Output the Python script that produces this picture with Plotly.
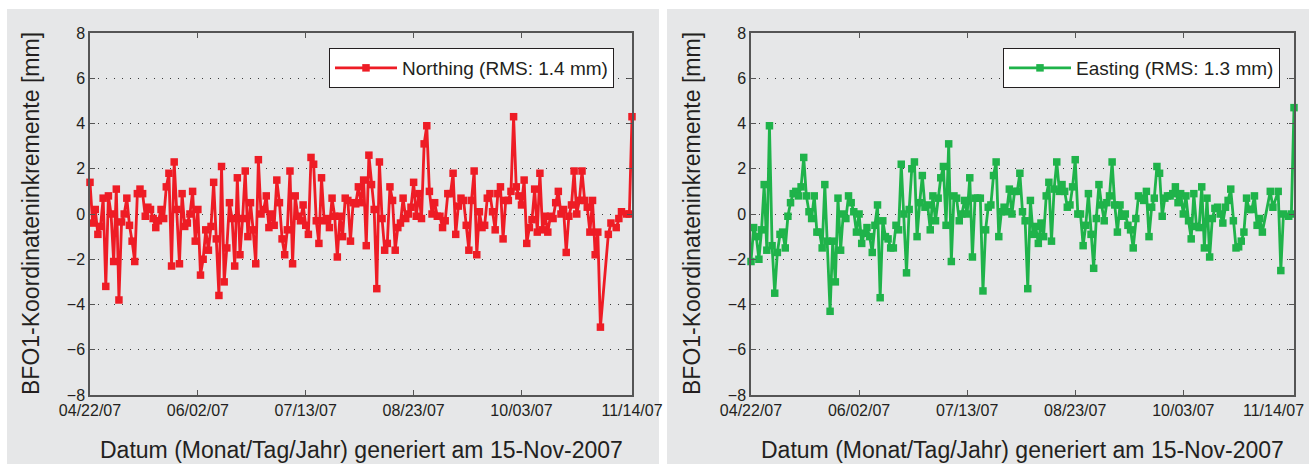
import pandas as pd
import plotly.graph_objects as go

START = "2007-04-22"
N_DAYS = 207  # 04/22/07 .. 11/14/07

tick_dates = ["2007-04-22", "2007-06-02", "2007-07-13", "2007-08-23", "2007-10-03", "2007-11-14"]
tick_labels = ["04/22/07", "06/02/07", "07/13/07", "08/23/07", "10/03/07", "11/14/07"]

# Northing increments (mm), one value per day, None = no solution
northing = [
    1.4, -0.4, 0.2, -0.9, -0.55, 0.7, -3.2, 0.8, 0.0, -2.1,
    1.1, -3.8, -0.35, 0.0, 0.7, -0.5, -1.2, -2.1, 0.9, 1.1,
    0.9, -0.1, 0.3, 0.2, -0.2, -0.6, -0.3, 0.2, -0.2, 1.2,
    1.8, -2.3, 2.3, 0.2, -2.2, 0.9, -0.55, -0.4, 0.0, 1.0,
    -1.2, 0.2, -2.7, -2.0, -0.7, -1.6, -0.55, 1.4, -1.1, -3.6,
    2.1, -3.0,
    -1.5, 0.5, -0.2, -2.3, 1.6, -1.8, -0.2, 1.9, -1.0, 0.5,
    -0.7, -2.2, 2.4, 0.0, 0.2, 0.8, -0.6, 0.0, -0.5, 1.5,
    0.5, -1.1, -1.8, -0.7, 1.9, -2.2, 0.8, -0.1, -0.3, 0.4,
    -0.5, -0.9, 2.5, 2.2, -0.3, -1.3, 1.6, -0.3, -0.2, -0.6,
    0.7, -0.1, -1.9, -0.1, -1.0, 0.7, 0.6, -1.2, 0.5, 0.45,
    1.2,
    0.5, 1.5, -1.4, 2.6, 1.3, 0.2, -3.3, 2.3, -0.2, -1.6,
    -1.3, 1.2, 0.6, -1.6, -0.6, -0.4, 0.7, -0.2, 0.0, 0.3,
    1.4, -0.1, 0.9, -0.2, 3.1, 3.9, 1.0, 0.0, 0.5, -0.1,
    -0.1, -0.6, -0.3, 0.9, 0.9, 1.8, -0.9, 0.35, 0.7, 0.6,
    -0.5, -1.6, 0.6, 1.9, -1.8, 0.1, -0.6, -0.5, 0.7, 0.9,
    0.1, -0.7,
    0.9, 1.2, -1.1, 0.6, 0.6, 1.0, 4.3, 1.2, 0.8, 0.4,
    1.5, -1.3, -0.6, -0.25, 1.1, -0.8, 1.8, -0.7, -0.1, -0.8,
    -0.1, -0.2, 0.5, 1.0, 0.0, 0.2, -1.7, -0.1, 0.4, 1.9,
    0.0, 0.6, 1.9, 0.6, 0.3, -0.8, 0.6, -1.8, -0.8, -5.0,
    None, None, -0.9, -0.4, None, -0.6, -0.2, 0.1, None, 0.0,
    0.0, 4.3,
]

# Easting increments (mm), one value per day, None = no solution
easting = [
    -2.1, -0.6, -1.0, -2.0,
    -0.7, 1.3, -1.6, 3.9, -1.4, -3.5, -1.7, -0.9, -0.8, -1.5,
    -0.1, 0.5, 0.9, 1.0, 0.8, 1.2, 2.5, 0.8, 0.1, -0.2,
    0.8, -0.8, -0.8, -1.5, 1.3, -1.2, -4.3, -1.2, -3.0, 0.7,
    -1.6, 0.0, -0.2, 0.8, 0.5, 0.1, -0.8, 0.0, -1.3, -0.85,
    -0.6, -1.0, -1.7, -0.5, 0.4, -3.7, -0.3, -1.0, -1.1, -1.5,
    -1.5, -0.5, -0.7,
    2.2, 0.0, -2.6, 0.2, 2.0, 2.3, -1.0, 0.5, 1.7, 0.3,
    0.4, -0.7, 0.8, -0.3, 0.7, 1.6, 2.1, -0.5, 3.1, -2.1,
    0.8, 0.7, -0.3, 0.0, 0.6, 0.0, 1.6, -1.9, 0.7, 0.7,
    0.7, -3.4, -0.7, 0.3, 0.4, 1.7, 2.3, -1.0, 0.1, 0.3,
    0.1, 1.1, 0.0, 1.0, 1.0, 1.8, 0.1, -0.3, -3.3, 0.6,
    -0.9, -0.55,
    -1.3, -0.4, -1.0, 0.8, 1.4, -1.2, 1.1, 2.3, 1.0, 1.3,
    1.0, 0.3, 0.4, 1.2, 2.4, 0.0, 0.0, -1.4, -0.5, 0.9,
    -0.9, -2.4, -0.2, 1.3, 0.4, -0.3, 0.5, 0.8, 2.3, 0.4,
    -0.8, 0.4, -0.1, 0.0, -0.5, -0.7, -1.5, -0.2, 0.8, 0.7,
    0.6, 1.0, -1.0, 0.3, 0.7, 2.1, 1.8, -0.1, 0.7, 0.8,
    0.8,
    0.9, 1.2, 0.5, 0.9, 0.0, 0.8, -0.3, -1.1, 0.9, -0.55,
    -0.6, 1.2, -1.5, 0.7, -1.9, -0.2, 0.25, 0.3, 0.0, -0.4,
    0.3, 0.6, 1.1, -0.3, -1.5, -1.45, -1.2, -0.8, 0.7, 0.2,
    0.2, 0.8, -0.5, -0.2, -0.8,
    None, None, 1.0, 0.3, None, 1.0, -2.5, 0.0, None, -0.1,
    0.0, 4.7,
]

series_names = ["Northing (RMS: 1.4 mm)", "Easting (RMS: 1.3 mm)"]
series_colors = ["#ee1c25", "#1fb34a"]

dates = pd.date_range(START, periods=N_DAYS, freq="D")

W, H = 1309, 468
FONT = "Liberation Sans, Arial, Helvetica, sans-serif"
TXT = "#231f20"
AX = "#555555"
PANEL = "#e6e7e8"

fig = go.Figure()

for i, (vals, name, col) in enumerate(zip([northing, easting], series_names, series_colors)):
    sfx = "" if i == 0 else "2"
    fig.add_trace(go.Scatter(
        x=dates, y=vals, name=name, mode="lines+markers",
        connectgaps=True, cliponaxis=False,
        line=dict(color=col, width=2.8),
        marker=dict(symbol="square", size=7.5, color=col, line=dict(width=0)),
        xaxis="x" + sfx, yaxis="y" + sfx,
        legend="legend" + sfx,
    ))

# plot areas in pixels
plots = [(90, 632), (751, 1294)]
y_top, y_bot = 33, 395

def px_x(p):
    return p / W

def px_y(p):
    return 1 - p / H

xaxis_common = dict(
    type="date",
    range=[tick_dates[0], tick_dates[-1]],
    tickmode="array", tickvals=tick_dates,
    showgrid=False, zeroline=False, automargin=False,
    showline=True, linecolor=AX, linewidth=1.5, mirror="ticks",
    ticks="inside", ticklen=5, tickcolor=AX, tickwidth=1,
    tickfont=dict(family=FONT, size=16, color=TXT),
    fixedrange=True,
)
yaxis_common = dict(
    range=[-8, 8], dtick=2, tick0=0,
    showgrid=True, gridcolor="#3a3a3a", griddash="1.2px,6.8px", gridwidth=1,
    zeroline=False, automargin=False,
    showline=True, linecolor=AX, linewidth=1.5, mirror="ticks",
    ticks="inside", ticklen=5, tickcolor=AX, tickwidth=1,
    tickfont=dict(family=FONT, size=16, color=TXT),
    fixedrange=True,
)

legend_common = dict(
    xanchor="right", yanchor="top",
    bgcolor="white", bordercolor="#231f20", borderwidth=1,
    font=dict(family=FONT, size=19, color=TXT),
    itemwidth=62, tracegroupgap=0,
)

layout = dict(
    width=W, height=H, autosize=False,
    margin=dict(l=0, r=0, t=0, b=0, pad=0, autoexpand=False),
    paper_bgcolor="white", plot_bgcolor="white",
    showlegend=True,
    xaxis=dict(xaxis_common, domain=[px_x(plots[0][0]), px_x(plots[0][1])], anchor="y",
               ticktext=tick_labels),
    yaxis=dict(yaxis_common, domain=[px_y(y_bot), px_y(y_top)], anchor="x"),
    xaxis2=dict(xaxis_common, domain=[px_x(plots[1][0]), px_x(plots[1][1])], anchor="y2",
                ticktext=tick_labels[:-1] + [""]),
    yaxis2=dict(yaxis_common, domain=[px_y(y_bot), px_y(y_top)], anchor="x2"),
    legend=dict(legend_common, x=px_x(614), y=px_y(48)),
    legend2=dict(legend_common, x=px_x(1280), y=px_y(48)),
    shapes=[
        dict(type="rect", xref="paper", yref="paper", layer="below",
             x0=px_x(7), x1=px_x(659), y0=px_y(464), y1=px_y(9),
             fillcolor=PANEL, line=dict(width=0)),
        dict(type="rect", xref="paper", yref="paper", layer="below",
             x0=px_x(667), x1=1.0, y0=px_y(464), y1=px_y(9),
             fillcolor=PANEL, line=dict(width=0)),
    ],
    annotations=[],
)

ytitle = "BFO1-Koordinateninkremente [mm]"
xtitle = "Datum (Monat/Tag/Jahr) generiert am 15-Nov-2007"
for (x0, x1), ytx in zip(plots, [31, 692]):
    layout["annotations"].append(dict(
        text=ytitle, xref="paper", yref="paper", x=px_x(ytx), y=px_y((y_top + y_bot) / 2),
        textangle=-90, showarrow=False, xanchor="center", yanchor="middle",
        font=dict(family=FONT, size=23, color=TXT)))
    layout["annotations"].append(dict(
        text=xtitle, xref="paper", yref="paper", x=px_x((x0 + x1) / 2), y=px_y(450),
        showarrow=False, xanchor="center", yanchor="middle",
        font=dict(family=FONT, size=23, color=TXT)))

# last date label of the right panel is pushed inside the page edge
layout["annotations"].append(dict(
    text=tick_labels[-1], xref="paper", yref="paper", x=px_x(1306), y=px_y(410),
    showarrow=False, xanchor="right", yanchor="middle",
    font=dict(family=FONT, size=16, color=TXT)))

fig.update_layout(**layout)
fig.write_html("out.html")
